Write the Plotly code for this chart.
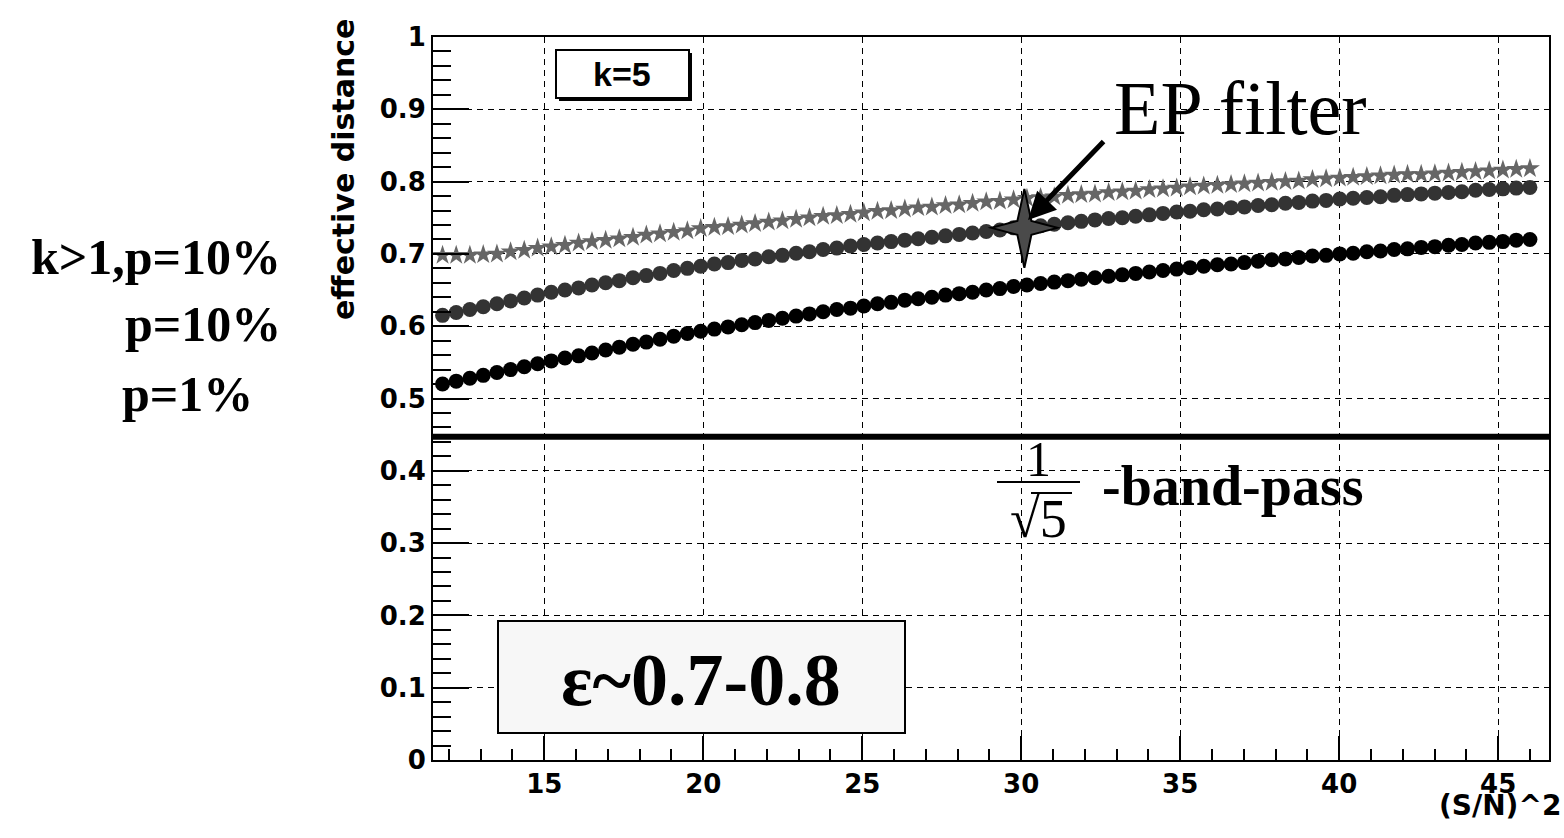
import plotly.graph_objects as go

# ---------------- data ----------------
X_SNR2 = [11.80, 12.23, 12.66, 13.08, 13.51, 13.94, 14.37, 14.79, 15.22, 15.65,
          16.08, 16.50, 16.93, 17.36, 17.79, 18.21, 18.64, 19.07, 19.50, 19.92,
          20.35, 20.78, 21.21, 21.63, 22.06, 22.49, 22.92, 23.34, 23.77, 24.20,
          24.63, 25.05, 25.48, 25.91, 26.34, 26.76, 27.19, 27.62, 28.05, 28.47,
          28.90, 29.33, 29.76, 30.18, 30.61, 31.04, 31.47, 31.89, 32.32, 32.75,
          33.18, 33.60, 34.03, 34.46, 34.89, 35.31, 35.74, 36.17, 36.60, 37.02,
          37.45, 37.88, 38.31, 38.73, 39.16, 39.59, 40.02, 40.44, 40.87, 41.30,
          41.73, 42.15, 42.58, 43.01, 43.44, 43.86, 44.29, 44.72, 45.15, 45.57,
          46.00]

# k>1, p=10%  (grey stars)
EFF_K_GT1_P10 = [0.698, 0.698, 0.698, 0.699, 0.700, 0.703, 0.705, 0.708, 0.710, 0.712,
                 0.715, 0.717, 0.719, 0.721, 0.723, 0.726, 0.728, 0.730, 0.732, 0.735,
                 0.737, 0.738, 0.740, 0.742, 0.744, 0.746, 0.748, 0.750, 0.752, 0.753,
                 0.755, 0.757, 0.759, 0.760, 0.762, 0.764, 0.765, 0.767, 0.768, 0.770,
                 0.772, 0.773, 0.775, 0.777, 0.778, 0.779, 0.781, 0.782, 0.783, 0.785,
                 0.786, 0.787, 0.789, 0.790, 0.791, 0.793, 0.794, 0.795, 0.796, 0.797,
                 0.798, 0.799, 0.800, 0.801, 0.803, 0.804, 0.805, 0.806, 0.807, 0.808,
                 0.809, 0.810, 0.810, 0.811, 0.812, 0.813, 0.814, 0.815, 0.816, 0.817,
                 0.818]

# p=10%  (dark grey circles)
EFF_P10 = [0.615, 0.619, 0.623, 0.627, 0.631, 0.635, 0.639, 0.643, 0.647, 0.650,
           0.653, 0.657, 0.660, 0.663, 0.667, 0.670, 0.673, 0.677, 0.680, 0.683,
           0.686, 0.688, 0.691, 0.693, 0.696, 0.698, 0.701, 0.703, 0.706, 0.708,
           0.711, 0.713, 0.715, 0.717, 0.719, 0.721, 0.723, 0.725, 0.727, 0.729,
           0.731, 0.733, 0.736, 0.738, 0.739, 0.741, 0.743, 0.745, 0.747, 0.749,
           0.750, 0.752, 0.754, 0.756, 0.758, 0.759, 0.761, 0.762, 0.764, 0.765,
           0.767, 0.768, 0.770, 0.771, 0.773, 0.774, 0.776, 0.777, 0.778, 0.779,
           0.781, 0.782, 0.783, 0.784, 0.785, 0.786, 0.788, 0.789, 0.790, 0.791,
           0.792]

# p=1%  (black circles)
EFF_P1 = [0.520, 0.524, 0.528, 0.532, 0.536, 0.540, 0.544, 0.548, 0.552, 0.556,
          0.559, 0.563, 0.567, 0.571, 0.575, 0.578, 0.582, 0.586, 0.590, 0.593,
          0.596, 0.599, 0.602, 0.605, 0.608, 0.611, 0.614, 0.617, 0.620, 0.623,
          0.625, 0.628, 0.631, 0.633, 0.636, 0.638, 0.640, 0.643, 0.645, 0.647,
          0.650, 0.652, 0.655, 0.657, 0.659, 0.661, 0.663, 0.665, 0.667, 0.669,
          0.671, 0.673, 0.675, 0.677, 0.679, 0.681, 0.683, 0.685, 0.686, 0.688,
          0.690, 0.692, 0.693, 0.695, 0.697, 0.698, 0.700, 0.701, 0.703, 0.704,
          0.706, 0.707, 0.709, 0.710, 0.712, 0.713, 0.715, 0.716, 0.717, 0.719,
          0.720]

BANDPASS_LEVEL = 0.447          # 1/sqrt(5)
EP_FILTER_X = [30.1]
EP_FILTER_Y = [0.736]

X_RANGE = [11.5, 46.6]
Y_RANGE = [0.0, 1.0]
X_TICKS = [15, 20, 25, 30, 35, 40, 45]
Y_TICKS = [0, 0.1, 0.2, 0.3, 0.4, 0.5, 0.6, 0.7, 0.8, 0.9, 1.0]
Y_TICK_TEXT = ["0", "0.1", "0.2", "0.3", "0.4", "0.5", "0.6", "0.7", "0.8", "0.9", "1"]

# ---------------- layout geometry ----------------
W, H = 1564, 838
ML, MR, MT, MB = 433, 15, 37, 78
PW, PH = W - ML - MR, H - MT - MB
XS = PW / (X_RANGE[1] - X_RANGE[0])   # px per x unit
YS = PH / (Y_RANGE[1] - Y_RANGE[0])   # px per y unit


def dx(px):
    return X_RANGE[0] + (px - ML) / XS


def dy(py):
    return Y_RANGE[0] + (H - MB - py) / YS


def ppx(px):
    return (px - ML) / PW


def ppy(py):
    return (H - MB - py) / PH


AX_FONT = dict(family="DejaVu Sans", size=26, color="black", weight="bold")
SERIF = "Liberation Serif"

fig = go.Figure()

# band-pass level
fig.add_trace(go.Scatter(
    x=X_RANGE, y=[BANDPASS_LEVEL, BANDPASS_LEVEL], mode="lines",
    line=dict(color="black", width=6), showlegend=False, hoverinfo="skip"))

fig.add_trace(go.Scatter(
    x=X_SNR2, y=EFF_K_GT1_P10, mode="markers", name="k>1,p=10%",
    marker=dict(symbol="star", size=15, color="#666666", line=dict(width=0)),
    showlegend=False))
fig.add_trace(go.Scatter(
    x=X_SNR2, y=EFF_P10, mode="markers", name="p=10%",
    marker=dict(symbol="circle", size=15, color="#333333", line=dict(width=0)),
    showlegend=False))
fig.add_trace(go.Scatter(
    x=X_SNR2, y=EFF_P1, mode="markers", name="p=1%",
    marker=dict(symbol="circle", size=15, color="#000000", line=dict(width=0)),
    showlegend=False))
# EP filter point (drawn as a 4-point star shape below, centred on this value)
fig.add_trace(go.Scatter(
    x=EP_FILTER_X, y=EP_FILTER_Y, mode="markers", name="EP filter",
    marker=dict(symbol="circle", size=6, color="#4a4a4a"), showlegend=False))

shapes = []

# thin 4-point star around the EP filter value (offsets in pixels)
cx, cy = EP_FILTER_X[0], EP_FILTER_Y[0]
star_px = [(0, -39), (7, -7), (33, 0), (7, 7), (0, 40), (-7, 7), (-33, 0), (-7, -7)]
path = ""
for i, (ox, oy) in enumerate(star_px):
    path += ("M" if i == 0 else "L") + f"{cx + ox / XS:.5f},{cy - oy / YS:.5f} "
path += "Z"
shapes.append(dict(type="path", xref="x", yref="y", path=path,
                   fillcolor="#4a4a4a", line=dict(color="black", width=2), layer="above"))

# k=5 box with shadow
sh = 3
shapes.append(dict(type="rect", xref="x", yref="y",
                   x0=dx(556 + sh), x1=dx(689 + sh), y0=dy(98 + sh), y1=dy(50 + sh),
                   fillcolor="black", line=dict(width=0), layer="above"))
shapes.append(dict(type="rect", xref="x", yref="y",
                   x0=dx(556), x1=dx(689), y0=dy(98), y1=dy(50),
                   fillcolor="white", line=dict(color="black", width=2), layer="above"))
# epsilon box
shapes.append(dict(type="rect", xref="x", yref="y",
                   x0=dx(498), x1=dx(905), y0=dy(733), y1=dy(621),
                   fillcolor="#f7f7f7", line=dict(color="black", width=2), layer="above"))
# fraction bar of 1/sqrt5
shapes.append(dict(type="line", xref="x", yref="y",
                   x0=dx(997), x1=dx(1080), y0=dy(482), y1=dy(482),
                   line=dict(color="black", width=2), layer="above"))
# vinculum of the square root
shapes.append(dict(type="line", xref="x", yref="y",
                   x0=dx(1031), x1=dx(1072), y0=dy(493), y1=dy(493),
                   line=dict(color="black", width=2), layer="above"))

annotations = [
    dict(x=dx(622), y=dy(74), xref="x", yref="y", text="k=5", showarrow=False,
         xanchor="center", yanchor="middle",
         font=dict(family="Liberation Sans", size=34, color="black", weight="bold")),
    dict(x=dx(1240), y=dy(108), xref="x", yref="y", text="EP filter", showarrow=False,
         xanchor="center", yanchor="middle",
         font=dict(family=SERIF, size=76, color="black")),
    dict(x=dx(1028), y=dy(220), xref="x", yref="y", ax=77, ay=-80, text="",
         showarrow=True, arrowhead=2, arrowsize=1.1, arrowwidth=5, arrowcolor="black"),
    dict(x=dx(701), y=dy(680), xref="x", yref="y", text="<b>ε~0.7-0.8</b>",
         xanchor="center", yanchor="middle",
         showarrow=False, font=dict(family=SERIF, size=74, color="black")),
    dict(x=dx(1038), y=dy(459), xref="x", yref="y", text="1", showarrow=False,
         xanchor="center", yanchor="middle",
         font=dict(family=SERIF, size=50, color="black")),
    dict(x=dx(1038), y=dy(519), xref="x", yref="y", text="√5", showarrow=False,
         xanchor="center", yanchor="middle",
         font=dict(family=SERIF, size=54, color="black")),
    dict(x=dx(1100), y=dy(486), xref="x", yref="y", xanchor="left", yanchor="middle",
         text="<b>-band-pass</b>", showarrow=False,
         font=dict(family=SERIF, size=56, color="black")),
    # left legend-like labels
    dict(x=ppx(283), y=ppy(257), xref="paper", yref="paper", xanchor="right",
         yanchor="middle", text="<b>k>1,p=10%</b>", showarrow=False,
         font=dict(family=SERIF, size=50, color="black")),
    dict(x=ppx(283), y=ppy(324), xref="paper", yref="paper", xanchor="right",
         yanchor="middle", text="<b>p=10%</b>", showarrow=False,
         font=dict(family=SERIF, size=50, color="black")),
    dict(x=ppx(120), y=ppy(394), xref="paper", yref="paper", xanchor="left",
         yanchor="middle", text="<b>p=1%</b>", showarrow=False,
         font=dict(family=SERIF, size=50, color="black")),
    # axis titles
    dict(x=ppx(343), y=ppy(170), xref="paper", yref="paper", textangle=-90,
         xanchor="center", yanchor="middle",
         text="effective distance", showarrow=False,
         font=dict(family="DejaVu Sans", size=30, color="black", weight="bold")),
    dict(x=ppx(1563), y=ppy(805), xref="paper", yref="paper", xanchor="right",
         yanchor="middle", text="(S/N)^2", showarrow=False,
         font=dict(family="DejaVu Sans", size=28, color="black", weight="bold")),
]

fig.update_layout(
    width=W, height=H,
    margin=dict(l=ML, r=MR, t=MT, b=MB, pad=0),
    paper_bgcolor="white", plot_bgcolor="white",
    shapes=shapes, annotations=annotations,
    showlegend=False,
)

fig.update_xaxes(
    range=X_RANGE, tickvals=X_TICKS, ticks="inside", ticklen=24, tickwidth=2,
    tickcolor="black", tickfont=AX_FONT,
    showline=True, linecolor="black", linewidth=2, mirror=True,
    showgrid=True, gridcolor="black", gridwidth=1, griddash="6px,5px",
    zeroline=False,
    minor=dict(ticks="inside", ticklen=11, tickwidth=2, tickcolor="black",
               dtick=1, tick0=0, showgrid=False),
)
fig.update_yaxes(
    range=Y_RANGE, tickvals=Y_TICKS, ticktext=Y_TICK_TEXT, ticks="inside",
    ticklen=36, tickwidth=2, tickcolor="black", tickfont=AX_FONT,
    showline=True, linecolor="black", linewidth=2, mirror=True,
    showgrid=True, gridcolor="black", gridwidth=1, griddash="6px,5px",
    zeroline=False,
    minor=dict(ticks="inside", ticklen=18, tickwidth=2, tickcolor="black",
               dtick=0.02, tick0=0, showgrid=False),
)

fig.write_html("out.html")
